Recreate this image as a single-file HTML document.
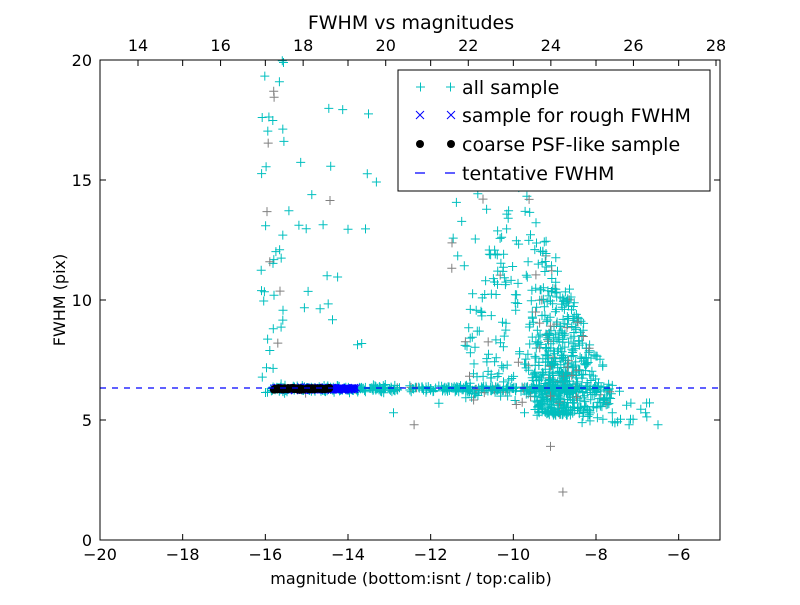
<!DOCTYPE html>
<html><head><meta charset="utf-8"><style>
body{margin:0;background:#fff;}
text{font-family:"DejaVu Sans","Liberation Sans",sans-serif;}
</style></head><body>
<svg id="s" width="800" height="600" xmlns="http://www.w3.org/2000/svg">
<rect width="800" height="600" fill="#fff"/>
<g id="pts"></g>
<line x1="100" y1="388" x2="720" y2="388" stroke="#0000ff" stroke-width="1.3" stroke-dasharray="6,6"/>
<rect x="100" y="60" width="620" height="480" fill="none" stroke="#000" stroke-width="1"/>
<g id="ticks" stroke="#000" stroke-width="1"></g>
<g font-size="16" fill="#000" id="labels"></g>
<text x="411" y="29" font-size="19" text-anchor="middle">FWHM vs magnitudes</text>
<text x="411" y="584" font-size="16" text-anchor="middle">magnitude (bottom:isnt / top:calib)</text>
<text x="65" y="300" font-size="16" text-anchor="middle" transform="rotate(-90 65 300)">FWHM (pix)</text>
<rect x="398" y="70" width="312" height="121" fill="#fff" stroke="#000"/>
<g stroke="#00bfbf" stroke-width="1"><path d="M416 87h9M420.5 82.5v9M446 87h9M450.5 82.5v9"/></g>
<g stroke="#0000ff" stroke-width="1"><path d="M416 111l8 8M424 111l-8 8M447 111l8 8M455 111l-8 8"/></g>
<circle cx="420" cy="144" r="4" fill="#000"/><circle cx="451" cy="144" r="4" fill="#000"/>
<path d="M415 173h10M445 173h10" stroke="#0000ff" stroke-width="1.3"/>
<g font-size="19"><text x="462" y="94">all sample</text><text x="462" y="122">sample for rough FWHM</text><text x="462" y="151">coarse PSF-like sample</text><text x="462" y="180">tentative FWHM</text></g>
</svg>
<script>
var seed=11;function r(){seed=(seed*16807)%2147483647;return seed/2147483647;}
function g(){return (r()+r()+r()-1.5)*1.2;}
var P=[],G=document.getElementById('pts');
function X(m){return 100+(m+20)*620/15;}function Y(f){return 540-f*24;}
function col(p){return r()<p?'#808080':'#00bfbf';}
function plus(m,f,c){P.push('<path d="M'+(X(m)-4.5).toFixed(1)+' '+Y(f).toFixed(1)+'h9M'+X(m).toFixed(1)+' '+(Y(f)-4.5).toFixed(1)+'v9" stroke="'+c+'" stroke-width="1" fill="none"/>');}
function lim(m){if(m<-9.8)return 10+(m+11.2)/1.4*5;return 15-(m+9.8)/2.3*9;}
var i,m,f;
for(i=0;i<40;i++){m=-16.1+r()*0.55;f=6.5+Math.pow(r(),1.3)*13.5;plus(m,f,col(0.15));}
for(i=0;i<25;i++){m=-15.7+r()*2.6;f=8+r()*10;plus(m,f,col(0.1));}
for(i=0;i<380;i++){m=-16+r()*8;f=6.3+g()*0.12;plus(m,f,col(0.05));}
for(i=0;i<300;i++){m=-11.2+r()*3.6;f=5.5+r()*(Math.max(lim(m),6.5)-5.5);plus(m,f,col(0.06));}
for(i=0;i<400;i++){m=-8.9+g()*0.6;if(m>-7.4)m=-7.4-r()*0.5;var L=Math.max(lim(m),6.5);
 f=5.2+(-Math.log(r()+1e-6))*2.2;if(f>L)f=5.2+r()*(L-5.2);plus(m,f,col(0.06));}
for(i=0;i<20;i++){m=-11.6+r()*2;f=11+r()*8;plus(m,f,col(0.1));}
for(i=0;i<30;i++){m=-8.6+r()*1.9;f=4.8+r()*1.5;plus(m,f,'#00bfbf');}
plus(-8.8,2,'#808080');plus(-9.1,3.9,'#808080');plus(-12.4,4.8,'#808080');plus(-6.5,4.8,'#00bfbf');plus(-7.2,4.8,'#00bfbf');plus(-6.8,5.3,'#00bfbf');plus(-12.9,5.3,'#00bfbf');plus(-11.8,5.7,'#00bfbf');
for(i=0;i<250;i++){m=-15.8+r()*2;f=6.3+g()*0.05;var x=X(m),y=Y(f);P.push('<path d="M'+(x-3.5)+' '+(y-3.5)+'l7 7M'+(x+3.5)+' '+(y-3.5)+'l-7 7" stroke="#0000ff" stroke-width="1"/>');}
for(i=0;i<80;i++){m=-15.8+r()*1.35;f=6.3+g()*0.03;P.push('<circle cx="'+X(m)+'" cy="'+Y(f)+'" r="4" fill="#000"/>');}
G.innerHTML=P.join('');
var T=[],Lb=[];
for(var v=-20;v<=-6;v+=2){var x=X(v);T.push('<path d="M'+x+' 540v-6M'+x+' 60v6"/>');Lb.push('<text x="'+x+'" y="560" text-anchor="middle">'+(v<0?'\u2212'+(-v):v)+'</text>');}
for(var v=0;v<=20;v+=5){var y=Y(v);T.push('<path d="M100 '+y+'h6M720 '+y+'h-6"/>');Lb.push('<text x="92" y="'+(y+6)+'" text-anchor="end">'+v+'</text>');}
for(var v=14;v<=28;v+=2){var x=138+(v-14)*578/14;T.push('<path d="M'+x+' 60v6"/>');Lb.push('<text x="'+x+'" y="51" text-anchor="middle">'+v+'</text>');}
document.getElementById('ticks').innerHTML=T.join('');document.getElementById('labels').innerHTML=Lb.join('');
</script>
</body></html>
